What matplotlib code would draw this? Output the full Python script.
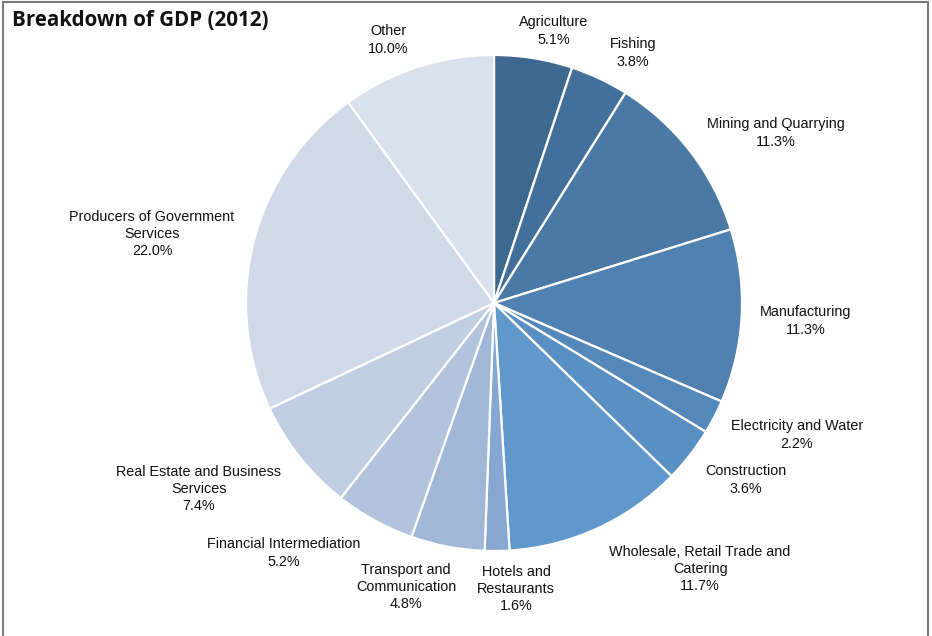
import matplotlib
matplotlib.use("Agg")
import matplotlib.pyplot as plt
from matplotlib.patches import Rectangle

# GDP shares by sector, 2012 (percent)
sectors = [
    "Agriculture", "Fishing", "Mining and Quarrying", "Manufacturing",
    "Electricity and Water", "Construction", "Wholesale, Retail Trade and\nCatering",
    "Hotels and\nRestaurants", "Transport and\nCommunication", "Financial Intermediation",
    "Real Estate and Business\nServices", "Producers of Government\nServices", "Other",
]
shares = [5.1, 3.8, 11.3, 11.3, 2.2, 3.6, 11.7, 1.6, 4.8, 5.2, 7.4, 22.0, 10.0]

colors = [
    "#3d6890", "#43709b", "#4b79a6", "#5181b0", "#5588ba", "#5a8fc3", "#6098cc",
    "#85a7d1", "#a0b7d7", "#b1c3dd", "#c0cde2", "#cfd9e8", "#d9e1ed",
]

# label anchor points, in pie-radius units (centre of each text block)
label_pos = [
    (0.242, 1.097), (0.560, 1.008), (1.137, 0.685), (1.258, -0.073),
    (1.222, -0.532), (1.016, -0.714), (0.831, -1.073), (0.089, -1.153),
    (-0.355, -1.145), (-0.847, -1.008), (-1.190, -0.750), (-1.379, 0.278),
    (-0.427, 1.060),
]

W, H = 932, 636
cx, cy, R = 494, 303, 248

fig = plt.figure(figsize=(W / 100, H / 100), dpi=100)
ax = fig.add_axes([0, 0, 1, 1])

ax.pie(shares, colors=colors, startangle=90, counterclock=False, radius=1.0,
       wedgeprops=dict(edgecolor="white", linewidth=1.6), frame=True)
ax.set_xlim(-cx / R, (W - cx) / R)
ax.set_ylim((cy - H) / R, cy / R)
ax.set_aspect("auto")
ax.axis("off")

for name, val, (lx, ly) in zip(sectors, shares, label_pos):
    ax.text(lx, ly, f"{name}\n{val:.1f}%", ha="center", va="center",
            fontsize=10.4, family="Liberation Sans", color="#111111",
            linespacing=1.3)

fig.text(12 / W, 1 - 21 / H, "Breakdown of GDP (2012)", ha="left", va="center",
         fontsize=14.8, fontweight="bold", family="Open Sans", color="#111111")

fig.patches.append(Rectangle((3 / W, -0.01), 925 / W, 1 - 1.5 / H + 0.01,
                             transform=fig.transFigure, fill=False,
                             edgecolor="#7a7a7a", linewidth=1.5))

fig.savefig("out.png", dpi=100)
